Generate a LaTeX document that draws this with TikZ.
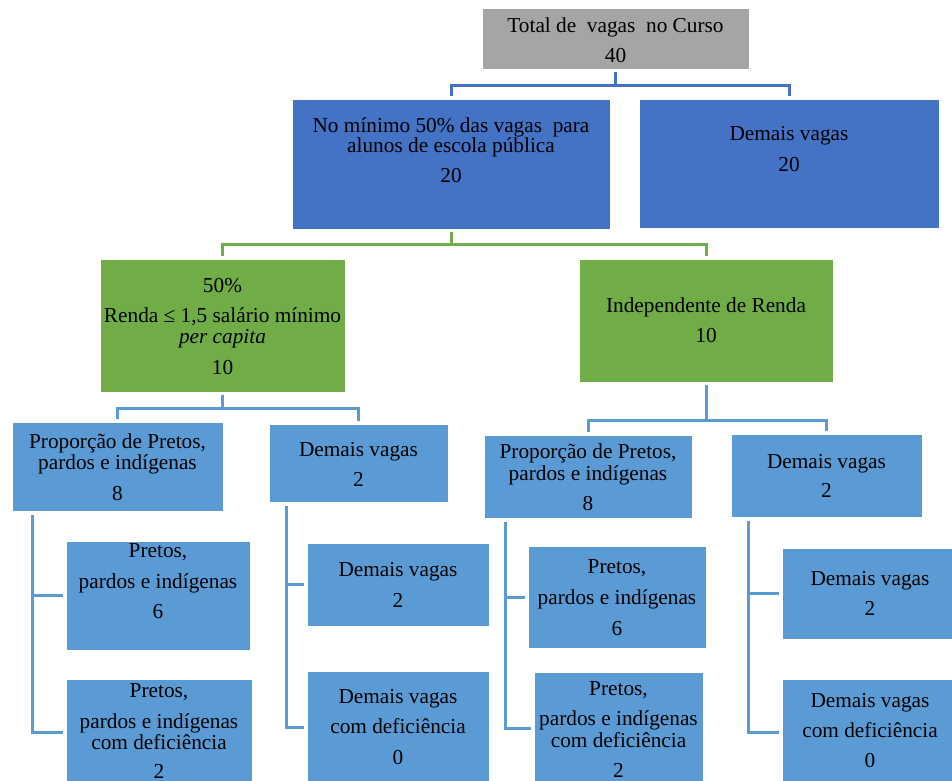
\documentclass[tikz,border=0pt]{standalone}
\usepackage{fontspec}
\setmainfont{Liberation Serif}
\definecolor{cgray}{HTML}{A5A5A5}
\definecolor{cdblue}{HTML}{4472C4}
\definecolor{cgreen}{HTML}{70AD47}
\definecolor{clblue}{HTML}{5B9BD5}
\begin{document}
\begin{tikzpicture}[x=1pt,y=-1pt,
  bx/.style={draw=white, line width=0.8pt, inner sep=0pt, outer sep=0pt, anchor=north west},
  tx/.style={anchor=base, inner sep=0pt, outer sep=0pt, font=\fontsize{21.3}{24}\selectfont, text=black},
  conn/.style={line width=3pt, shorten >=3pt},
  c1/.style={conn, draw=cdblue},
  c2/.style={conn, draw=cgreen},
  c3/.style={conn, draw=clblue}]
\clip (0,0) rectangle (952,780);
% boxes
\node[bx, fill=cgray, minimum width=267pt, minimum height=61pt] (top) at (482,8) {};
\node[bx, fill=cdblue, minimum width=318pt, minimum height=130pt] (b1) at (292,99) {};
\node[bx, fill=cdblue, minimum width=300pt, minimum height=129pt] (b2) at (639,99) {};
\node[bx, fill=cgreen, minimum width=245pt, minimum height=133pt] (g1) at (100,259) {};
\node[bx, fill=cgreen, minimum width=254pt, minimum height=123pt] (g2) at (579,259) {};
\node[bx, fill=clblue, minimum width=211pt, minimum height=89pt] (A) at (12,422) {};
\node[bx, fill=clblue, minimum width=179pt, minimum height=78pt] (B) at (269,424) {};
\node[bx, fill=clblue, minimum width=208pt, minimum height=83pt] (C) at (484,435) {};
\node[bx, fill=clblue, minimum width=191pt, minimum height=83pt] (D) at (731,434) {};
\node[bx, fill=clblue, minimum width=184pt, minimum height=109pt] (A1) at (66,541) {};
\node[bx, fill=clblue, minimum width=186pt, minimum height=106pt] (A2) at (66,679) {};
\node[bx, fill=clblue, minimum width=182pt, minimum height=83pt] (B1) at (307,543) {};
\node[bx, fill=clblue, minimum width=182pt, minimum height=112pt] (B2) at (307,671) {};
\node[bx, fill=clblue, minimum width=178pt, minimum height=102pt] (C1) at (528,546) {};
\node[bx, fill=clblue, minimum width=169pt, minimum height=112pt] (C2) at (534,672) {};
\node[bx, fill=clblue, minimum width=176pt, minimum height=91pt] (D1) at (782,548) {};
\node[bx, fill=clblue, minimum width=176pt, minimum height=106pt] (D2) at (782,679) {};
% junctions
\coordinate (j0) at (615.5,85);
\coordinate (j1) at (451,244);
\coordinate (j2) at (222.5,408);
\coordinate (j3) at (706,420);
% connectors
\draw[c1, shorten <=3pt] (top.south) -- (j0) -| (b1.north);
\draw[c1] (j0) -| (b2.north);
\draw[c2, shorten <=3pt] (b1.south) -- (j1) -| (g1.north);
\draw[c2] (j1) -| (g2.north);
\draw[c3, shorten <=3pt] (g1.south) -- (j2) -| (A.north);
\draw[c3] (j2) -| (B.north);
\draw[c3, shorten <=3pt] (g2.south) -- (j3) -| (C.north);
\draw[c3] (j3) -| (D.north);
\draw[c3, shorten <=4pt] ([xshift=20pt]A.south west) |- (A2.west);
\draw[c3] ([xshift=20pt]A.south west |- A1.west) -- (A1.west);
\draw[c3, shorten <=4pt] ([xshift=17pt]B.south west) |- (B2.west);
\draw[c3] ([xshift=17pt]B.south west |- B1.west) -- (B1.west);
\draw[c3, shorten <=4pt] ([xshift=21pt]C.south west) |- (C2.west);
\draw[c3] ([xshift=21pt]C.south west |- C1.west) -- (C1.west);
\draw[c3, shorten <=4pt] ([xshift=17pt]D.south west) |- (D2.west);
\draw[c3] ([xshift=17pt]D.south west |- D1.west) -- (D1.west);
% texts
\node[tx] (top-1) at (615.5,32) {Total de\ \ vagas\ \ no Curso};
\node[tx] (top-2) at (615.5,62) {40};
\node[tx] (b1-1) at (451,132) {No mínimo 50\% das vagas\ \ para};
\node[tx] (b1-2) at (451,152) {alunos de escola pública};
\node[tx] (b1-3) at (451,182) {20};
\node[tx] (b2-1) at (789,140) {Demais vagas};
\node[tx] (b2-2) at (789,171) {20};
\node[tx] (g1-1) at (222.5,292) {50\%};
\node[tx] (g1-2) at (222.5,322) {Renda ≤ 1,5 salário mínimo};
\node[tx] (g1-3) at (222.5,343) {\itshape per capita};
\node[tx] (g1-4) at (222.5,374) {10};
\node[tx] (g2-1) at (706,312) {Independente de Renda};
\node[tx] (g2-2) at (706,342) {10};
\node[tx] (A-1) at (117.5,448) {Proporção de Pretos,};
\node[tx] (A-2) at (117.5,469) {pardos e indígenas};
\node[tx] (A-3) at (117.5,500) {8};
\node[tx] (B-1) at (358.5,456) {Demais vagas};
\node[tx] (B-2) at (358.5,486) {2};
\node[tx] (C-1) at (588,458) {Proporção de Pretos,};
\node[tx] (C-2) at (588,480) {pardos e indígenas};
\node[tx] (C-3) at (588,510) {8};
\node[tx] (D-1) at (826.5,468) {Demais vagas};
\node[tx] (D-2) at (826.5,497) {2};
\node[tx] (A1-1) at (158,557) {Pretos,};
\node[tx] (A1-2) at (158,588) {pardos e indígenas};
\node[tx] (A1-3) at (158,618) {6};
\node[tx] (A2-1) at (159,697) {Pretos,};
\node[tx] (A2-2) at (159,728) {pardos e indígenas};
\node[tx] (A2-3) at (159,749) {com deficiência};
\node[tx] (A2-4) at (159,778) {2};
\node[tx] (B1-1) at (398,576) {Demais vagas};
\node[tx] (B1-2) at (398,607) {2};
\node[tx] (B2-1) at (398,703) {Demais vagas};
\node[tx] (B2-2) at (398,733) {com deficiência};
\node[tx] (B2-3) at (398,764) {0};
\node[tx] (C1-1) at (617,573) {Pretos,};
\node[tx] (C1-2) at (617,604) {pardos e indígenas};
\node[tx] (C1-3) at (617,635) {6};
\node[tx] (C2-1) at (618.5,695) {Pretos,};
\node[tx] (C2-2) at (618.5,725) {pardos e indígenas};
\node[tx] (C2-3) at (618.5,747) {com deficiência};
\node[tx] (C2-4) at (618.5,777) {2};
\node[tx] (D1-1) at (870,585) {Demais vagas};
\node[tx] (D1-2) at (870,615) {2};
\node[tx] (D2-1) at (870,707) {Demais vagas};
\node[tx] (D2-2) at (870,737) {com deficiência};
\node[tx] (D2-3) at (870,767) {0};
\end{tikzpicture}
\end{document}
